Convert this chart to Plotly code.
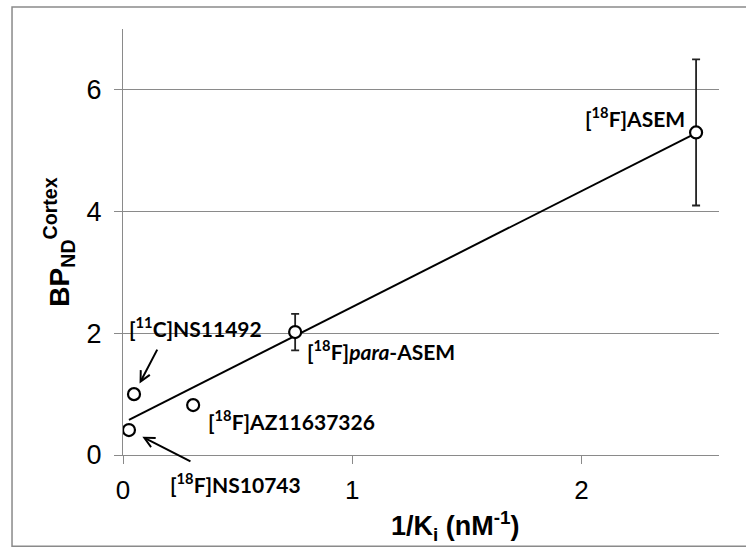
import numpy as np
import plotly.graph_objects as go

# ---- data ----
names = ["[<sup>18</sup>F]NS10743", "[<sup>11</sup>C]NS11492", "[<sup>18</sup>F]AZ11637326",
         "[<sup>18</sup>F]<i>para</i>-ASEM", "[<sup>18</sup>F]ASEM"]
inv_ki = [0.026, 0.048, 0.306, 0.751, 2.50]
bp_nd = [0.41, 1.00, 0.82, 2.02, 5.30]
bp_err = [0.0, 0.0, 0.0, 0.30, 1.20]
x_ticks = [0, 1, 2]
y_ticks = [0, 2, 4, 6]
x_title = "<b>1/K<sub>i</sub> (nM<sup>-1</sup>)</b>"
y_title = "<b>BP<sub>ND</sub><sup>Cortex</sup></b>"

GRAY = "#8a8a8a"
LABEL_FONT = dict(family="Lato", size=21, color="black")

slope, intercept = np.polyfit(inv_ki, bp_nd, 1)
xl = np.array([min(inv_ki), max(inv_ki)])
yl = slope * xl + intercept

fig = go.Figure()
fig.add_trace(go.Scatter(x=xl, y=yl, mode="lines", line=dict(color="black", width=2),
                         hoverinfo="skip", showlegend=False))
fig.add_trace(go.Scatter(
    x=inv_ki, y=bp_nd, mode="markers",
    marker=dict(size=12, color="white", line=dict(color="black", width=2.2)),
    error_y=dict(type="data", array=bp_err, visible=True, color="#222222", thickness=1.8, width=4),
    showlegend=False))

# label offsets in pixels relative to each point: (xshift, yshift, xanchor)
offsets = [(39, -53, "left"), (-7, 67, "left"), (13, -15, "left"), (10, -18, "left"), (-9, 15, "right")]
annotations = []
for n, x, y, (dx, dy, xa) in zip(names, inv_ki, bp_nd, offsets):
    annotations.append(dict(x=x, y=y, xref="x", yref="y", text="<b>" + n + "</b>", showarrow=False,
                            xanchor=xa, yanchor="middle", xshift=dx, yshift=dy, font=LABEL_FONT))
# arrows to the two near-origin points
annotations.append(dict(x=inv_ki[1], y=bp_nd[1], xref="x", yref="y", text="", showarrow=True,
                        ax=24, ay=-46, arrowhead=5, arrowsize=1, arrowwidth=2, arrowcolor="black", standoff=12))
annotations.append(dict(x=inv_ki[0], y=bp_nd[0], xref="x", yref="y", text="", showarrow=True,
                        ax=63, ay=32, arrowhead=5, arrowsize=1, arrowwidth=2, arrowcolor="black", standoff=15))
# x-axis title (offset right of centre as in the original)
annotations.append(dict(x=0.5, y=0, xref="paper", yref="paper", text=x_title, showarrow=False,
                        xanchor="center", yanchor="middle", xshift=34, yshift=-71,
                        font=dict(family="Liberation Sans", size=27, color="black")))

fig.update_layout(
    width=746, height=549,
    margin=dict(l=123, r=27, t=29, b=94, autoexpand=False),
    plot_bgcolor="white", paper_bgcolor="white",
    annotations=annotations,
    shapes=[dict(type="rect", xref="paper", yref="paper", x0=-0.1862, x1=1.06, y0=-0.214, y1=1.0516,
                 line=dict(color=GRAY, width=1.5), fillcolor="rgba(0,0,0,0)", layer="below")],
    xaxis=dict(range=[0, 2.6], tickvals=x_ticks, ticks="outside", ticklen=8, tickcolor=GRAY,
               showline=True, linecolor=GRAY, linewidth=1.2, showgrid=False, zeroline=False,
               automargin=False,
               tickfont=dict(family="Liberation Sans", size=26, color="black"), ticklabelstandoff=4),
    yaxis=dict(range=[0, 7], tickvals=y_ticks, ticks="outside", ticklen=8, tickcolor=GRAY,
               showline=True, linecolor=GRAY, linewidth=1.2, showgrid=True, gridcolor=GRAY, gridwidth=1.2,
               zeroline=False, automargin=False,
               tickfont=dict(family="Liberation Sans", size=27, color="black"), ticklabelstandoff=7,
               title=dict(text=y_title,
                          font=dict(family="Liberation Sans", size=28, color="black"), standoff=8)),
)

fig.write_html("out.html", config={"displayModeBar": False},
               post_script="document.body.style.margin='0';document.body.style.overflow='hidden';")
